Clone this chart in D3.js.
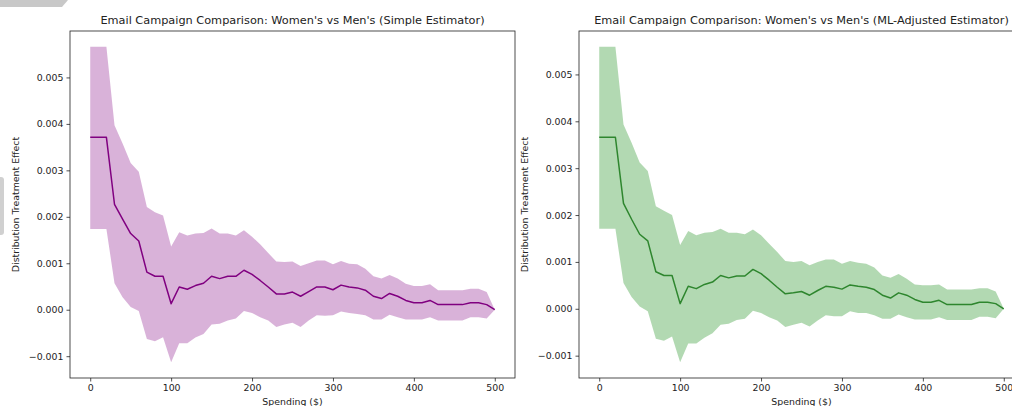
<!DOCTYPE html>
<html>
<head>
<meta charset="utf-8">
<script src="https://cdn.jsdelivr.net/npm/d3@7/dist/d3.min.js"></script>
<style>
  body { margin: 0; background: #fff; }
  svg { display: block; font-family: "DejaVu Sans", sans-serif; }
</style>
</head>
<body>
<svg width="1012" height="406"></svg>
<script>
"use strict";

// spending grid ($)
const spending = [0, 10, 20, 30, 40, 50, 60, 70, 80, 90, 100, 110, 120, 130, 140, 150, 160, 170, 180, 190, 200,
  210, 220, 230, 240, 250, 260, 270, 280, 290, 300, 310, 320, 330, 340, 350, 360, 370, 380, 390, 400,
  410, 420, 430, 440, 450, 460, 470, 480, 490, 500];

// simple estimator
const simpleEffect = [0.00371, 0.00371, 0.00371, 0.00227, 0.00195, 0.00164, 0.00148, 0.00081, 0.00072, 0.00072, 0.00013,
  0.00049, 0.00044, 0.00052, 0.00057, 0.00072, 0.00067, 0.00072, 0.00072, 0.00085, 0.00076,
  0.00063, 0.00049, 0.00034, 0.00034, 0.00038, 0.00029, 0.00039, 0.00049, 0.00049, 0.00043,
  0.00053, 0.00049, 0.00047, 0.00042, 0.00029, 0.00024, 0.00035, 0.00029, 0.00020, 0.00015,
  0.00015, 0.00020, 0.00011, 0.00011, 0.00011, 0.00011, 0.00015, 0.00015, 0.00011, 0.0];
const simpleUpper = [0.00566, 0.00566, 0.00566, 0.00397, 0.00358, 0.00316, 0.00297, 0.00221, 0.00210, 0.00203, 0.00136,
  0.00167, 0.00160, 0.00164, 0.00165, 0.00175, 0.00164, 0.00164, 0.00160, 0.00171, 0.00157,
  0.00141, 0.00122, 0.00104, 0.00103, 0.00104, 0.00094, 0.00100, 0.00106, 0.00106, 0.00098,
  0.00105, 0.00099, 0.00098, 0.00088, 0.00072, 0.00067, 0.00075, 0.00067, 0.00056, 0.00051,
  0.00051, 0.00055, 0.00042, 0.00042, 0.00042, 0.00042, 0.00045, 0.00045, 0.00038, 0.0];
const simpleLower = [0.00174, 0.00174, 0.00174, 0.00057, 0.00027, 0.00006, -0.00003, -0.00063, -0.00068, -0.00059, -0.00113,
  -0.00072, -0.00072, -0.00060, -0.00052, -0.00032, -0.00030, -0.00023, -0.00019, -0.00003, -0.00007,
  -0.00016, -0.00023, -0.00037, -0.00032, -0.00028, -0.00037, -0.00023, -0.00012, -0.00013, -0.00012,
  -0.00004, -0.00007, -0.00009, -0.00012, -0.00021, -0.00021, -0.00011, -0.00016, -0.00021, -0.00021,
  -0.00021, -0.00016, -0.00023, -0.00023, -0.00023, -0.00023, -0.00016, -0.00016, -0.00019, 0.0];

// ML-adjusted estimator
const mlEffect = [0.00366, 0.00366, 0.00366, 0.00225, 0.00191, 0.00159, 0.00145, 0.00079, 0.00071, 0.00071, 0.00011,
  0.00048, 0.00043, 0.00052, 0.00057, 0.00071, 0.00066, 0.00070, 0.00070, 0.00084, 0.00075,
  0.00061, 0.00046, 0.00032, 0.00034, 0.00037, 0.00029, 0.00039, 0.00048, 0.00046, 0.00042,
  0.00051, 0.00048, 0.00046, 0.00041, 0.00029, 0.00023, 0.00034, 0.00029, 0.00020, 0.00014,
  0.00014, 0.00018, 0.00009, 0.00009, 0.00009, 0.00009, 0.00014, 0.00014, 0.00011, 0.0];
const mlUpper = [0.00559, 0.00559, 0.00559, 0.00393, 0.00354, 0.00312, 0.00294, 0.00219, 0.00209, 0.00200, 0.00136,
  0.00166, 0.00157, 0.00162, 0.00164, 0.00171, 0.00162, 0.00162, 0.00159, 0.00169, 0.00157,
  0.00139, 0.00121, 0.00102, 0.00100, 0.00102, 0.00093, 0.00100, 0.00105, 0.00105, 0.00096,
  0.00102, 0.00098, 0.00096, 0.00088, 0.00071, 0.00066, 0.00074, 0.00064, 0.00052, 0.00050,
  0.00050, 0.00052, 0.00041, 0.00041, 0.00041, 0.00041, 0.00044, 0.00044, 0.00037, 0.0];
const mlLower = [0.00171, 0.00171, 0.00171, 0.00055, 0.00025, 0.00005, -0.00005, -0.00064, -0.00068, -0.00059, -0.00114,
  -0.00074, -0.00074, -0.00062, -0.00052, -0.00034, -0.00032, -0.00024, -0.00021, -0.00004, -0.00009,
  -0.00018, -0.00025, -0.00039, -0.00034, -0.00030, -0.00038, -0.00025, -0.00014, -0.00016, -0.00016,
  -0.00005, -0.00009, -0.00009, -0.00014, -0.00021, -0.00021, -0.00012, -0.00018, -0.00023, -0.00023,
  -0.00023, -0.00018, -0.00024, -0.00024, -0.00024, -0.00024, -0.00017, -0.00017, -0.00020, 0.0];

const xTicks = [0, 100, 200, 300, 400, 500];
const yTicks = [-0.001, 0.0, 0.001, 0.002, 0.003, 0.004, 0.005];

const svg = d3.select("svg");
const textColor = "#222";

// little grey marks left over in the screenshot corners
svg.append("path").attr("d", "M0,0 H68 L62,7 H0 Z").attr("fill", "#c8c8c8");
svg.append("rect").attr("x", -4).attr("y", 177).attr("width", 8).attr("height", 58)
  .attr("rx", 3).attr("fill", "#d0d0d0");

function drawPanel(left, title, effect, lower, upper, lineColor, fillColor) {
  const top = 31, bottom = 378, width = 445;
  const rows = spending.map((s, i) => ({ s: s, e: effect[i], lo: lower[i], hi: upper[i] }));

  // matplotlib style 5% margin around data
  const yMin = d3.min(lower), yMax = d3.max(upper);
  const yPad = (yMax - yMin) * 0.05;
  const x = d3.scaleLinear().domain([-25, 525]).range([left, left + width]);
  const y = d3.scaleLinear().domain([yMin - yPad, yMax + yPad]).range([bottom, top]);

  const g = svg.append("g");

  g.append("path")
    .datum(rows)
    .attr("fill", fillColor)
    .attr("fill-opacity", 0.3)
    .attr("d", d3.area().x((d) => x(d.s)).y0((d) => y(d.lo)).y1((d) => y(d.hi)));

  g.append("path")
    .datum(rows)
    .attr("fill", "none")
    .attr("stroke", lineColor)
    .attr("stroke-width", 1.5)
    .attr("stroke-linejoin", "round")
    .attr("d", d3.line().x((d) => x(d.s)).y((d) => y(d.e)));

  // axes
  const xAxis = g.append("g")
    .attr("transform", `translate(0,${bottom})`)
    .call(d3.axisBottom(x).tickValues(xTicks).tickSize(3.5).tickPadding(3).tickFormat(d3.format("d")));
  const yAxis = g.append("g")
    .attr("transform", `translate(${left},0)`)
    .call(d3.axisLeft(y).tickValues(yTicks).tickSize(3.5).tickPadding(3).tickFormat(d3.format(".3f")));
  [xAxis, yAxis].forEach((a) => {
    a.select(".domain").remove();
    a.selectAll("line").attr("stroke", textColor).attr("stroke-width", 0.8);
    a.selectAll("text").attr("fill", textColor).style("font-size", "9.4px").style("font-family", "DejaVu Sans");
  });

  // frame
  g.append("rect")
    .attr("x", left).attr("y", top).attr("width", width).attr("height", bottom - top)
    .attr("fill", "none").attr("stroke", textColor).attr("stroke-width", 0.8);

  g.append("text")
    .attr("x", left + width / 2).attr("y", 24)
    .attr("text-anchor", "middle").attr("fill", textColor)
    .style("font-size", "11.3px")
    .text(title);

  g.append("text")
    .attr("x", left + width / 2).attr("y", 405)
    .attr("text-anchor", "middle").attr("fill", textColor)
    .style("font-size", "9.4px")
    .text("Spending ($)");

  g.append("text")
    .attr("transform", `translate(${left - 51},${(top + bottom) / 2}) rotate(-90)`)
    .attr("text-anchor", "middle").attr("fill", textColor)
    .style("font-size", "9.4px")
    .text("Distribution Treatment Effect");
}

drawPanel(70, "Email Campaign Comparison: Women's vs Men's (Simple Estimator)",
  simpleEffect, simpleLower, simpleUpper, "purple", "purple");
drawPanel(579, "Email Campaign Comparison: Women's vs Men's (ML-Adjusted Estimator)",
  mlEffect, mlLower, mlUpper, "#2e862e", "green");
</script>
</body>
</html>
